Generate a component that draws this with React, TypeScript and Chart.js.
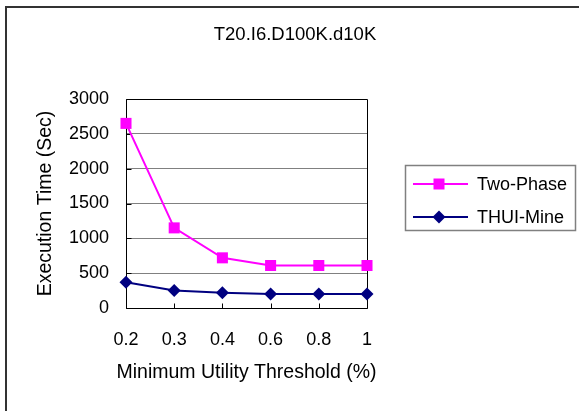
import React, { useEffect, useRef } from 'react';
import { Chart, registerables } from 'chart.js';

Chart.register(...registerables);

const categories = ['0.2', '0.3', '0.4', '0.6', '0.8', '1'];
const twoPhase = [2650, 1150, 720, 610, 610, 610];
const thuiMine = [370, 250, 220, 200, 200, 200];
const yMin = 0;
const yMax = 3000;
const yStep = 500;
const chartTitle = 'T20.I6.D100K.d10K';
const xTitle = 'Minimum Utility Threshold (%)';
const yTitle = 'Execution Time (Sec)';
const seriesNames = ['Two-Phase', 'THUI-Mine'];

const FONT = "'Liberation Sans', Arial, sans-serif";

const framePlugin = {
  id: 'frameTicks',
  beforeDatasetsDraw(chart: any) {
    const { ctx, chartArea: a, scales } = chart;
    ctx.save();
    ctx.strokeStyle = '#000';
    ctx.lineWidth = 1;
    ctx.beginPath();
    const l = Math.round(a.left) + 0.5;
    const r = Math.round(a.right) + 0.5;
    const t = Math.round(a.top) + 0.5;
    const b = Math.round(a.bottom) + 0.5;
    ctx.rect(l, t, r - l, b - t);
    const ys = scales.y;
    ys.ticks.forEach((_: any, i: number) => {
      const py = Math.round(ys.getPixelForTick(i)) + 0.5;
      ctx.moveTo(l, py);
      ctx.lineTo(l + 5, py);
    });
    const xs = scales.x;
    xs.ticks.forEach((_: any, i: number) => {
      const px = Math.round(xs.getPixelForTick(i)) + 0.5;
      ctx.moveTo(px, b);
      ctx.lineTo(px, b - 5);
    });
    ctx.stroke();
    ctx.restore();
  },
};

const decorPlugin = {
  id: 'decor',
  afterDraw(chart: any) {
    const { ctx, chartArea: a } = chart;
    ctx.save();
    ctx.strokeStyle = '#333';
    ctx.lineWidth = 2;
    ctx.strokeRect(6, 7, 800, 600);
    ctx.fillStyle = '#000';
    ctx.font = `18.5px ${FONT}`;
    ctx.textAlign = 'center';
    ctx.textBaseline = 'middle';
    ctx.fillText(chartTitle, 295, 35);
    // x axis title (drawn here so it is not squeezed to the plot width)
    ctx.font = `19.5px ${FONT}`;
    ctx.fillText(xTitle, (a.left + a.right) / 2, 373);
    ctx.strokeStyle = '#808080';
    ctx.lineWidth = 1.5;
    ctx.strokeRect(405.5, 165.5, 170, 65);
    const rows = [184, 217];
    chart.data.datasets.forEach((ds: any, i: number) => {
      const y = rows[i];
      ctx.strokeStyle = ds.borderColor;
      ctx.lineWidth = 2;
      ctx.beginPath();
      ctx.moveTo(413, y);
      ctx.lineTo(468, y);
      ctx.stroke();
      ctx.fillStyle = ds.pointBackgroundColor;
      ctx.beginPath();
      if (ds.pointStyle === 'rect') {
        ctx.rect(439 - 5.5, y - 5.5, 11, 11);
      } else {
        const r = 6.5;
        ctx.moveTo(439 - r, y);
        ctx.lineTo(439, y - r);
        ctx.lineTo(439 + r, y);
        ctx.lineTo(439, y + r);
        ctx.closePath();
      }
      ctx.fill();
      ctx.fillStyle = '#000';
      ctx.font = `18px ${FONT}`;
      ctx.textAlign = 'left';
      ctx.textBaseline = 'middle';
      ctx.fillText(ds.label, 477, y + 1);
    });
    ctx.restore();
  },
};

export default function App() {
  const ref = useRef<HTMLCanvasElement | null>(null);

  useEffect(() => {
    if (!ref.current) return;
    const chart = new Chart(ref.current, {
      type: 'line',
      data: {
        labels: categories,
        datasets: [
          {
            label: seriesNames[0],
            data: twoPhase,
            borderColor: '#FF00FF',
            backgroundColor: '#FF00FF',
            pointBackgroundColor: '#FF00FF',
            pointBorderColor: '#FF00FF',
            pointBorderWidth: 0,
            pointStyle: 'rect',
            pointRadius: 7.8,
            borderWidth: 2,
            tension: 0,
            clip: false as any,
          },
          {
            label: seriesNames[1],
            data: thuiMine,
            borderColor: '#000080',
            backgroundColor: '#000080',
            pointBackgroundColor: '#000080',
            pointBorderColor: '#000080',
            pointBorderWidth: 0,
            pointStyle: 'rectRot',
            pointRadius: 6.5,
            borderWidth: 2,
            tension: 0,
            clip: false as any,
          },
        ],
      },
      options: {
        responsive: false,
        animation: false,
        devicePixelRatio: 1,
        layout: { padding: { left: 30, top: 99, right: 212, bottom: 20 } },
        plugins: {
          legend: { display: false },
          title: { display: false },
          tooltip: { enabled: false },
        },
        scales: {
          x: {
            type: 'category',
            offset: false,
            grid: { display: false, drawTicks: false },
            border: { display: false },
            ticks: {
              color: '#000',
              font: { family: FONT, size: 18 },
              padding: 21,
              maxRotation: 0,
              autoSkip: false,
            },
            title: { display: false },
            afterFit(scale: any) {
              scale.height = 83;
            },
          },
          y: {
            min: yMin,
            max: yMax,
            ticks: {
              stepSize: yStep,
              color: '#000',
              font: { family: FONT, size: 18 },
              padding: 17,
              callback: (v: any) => String(v),
            },
            grid: { color: '#808080', lineWidth: 1, drawTicks: false },
            border: { display: false },
            title: {
              display: true,
              text: yTitle,
              color: '#000',
              font: { family: FONT, size: 19.5 },
              padding: { top: 4, bottom: 0 },
            },
            afterFit(scale: any) {
              scale.width = 96;
            },
          },
        },
      },
      plugins: [framePlugin, decorPlugin],
    });
    return () => chart.destroy();
  }, []);

  return (
    <div style={{ position: 'absolute', left: 0, top: 0, width: 579, height: 411, background: '#fff' }}>
      <canvas ref={ref} width={579} height={411} style={{ display: 'block' }} />
    </div>
  );
}
